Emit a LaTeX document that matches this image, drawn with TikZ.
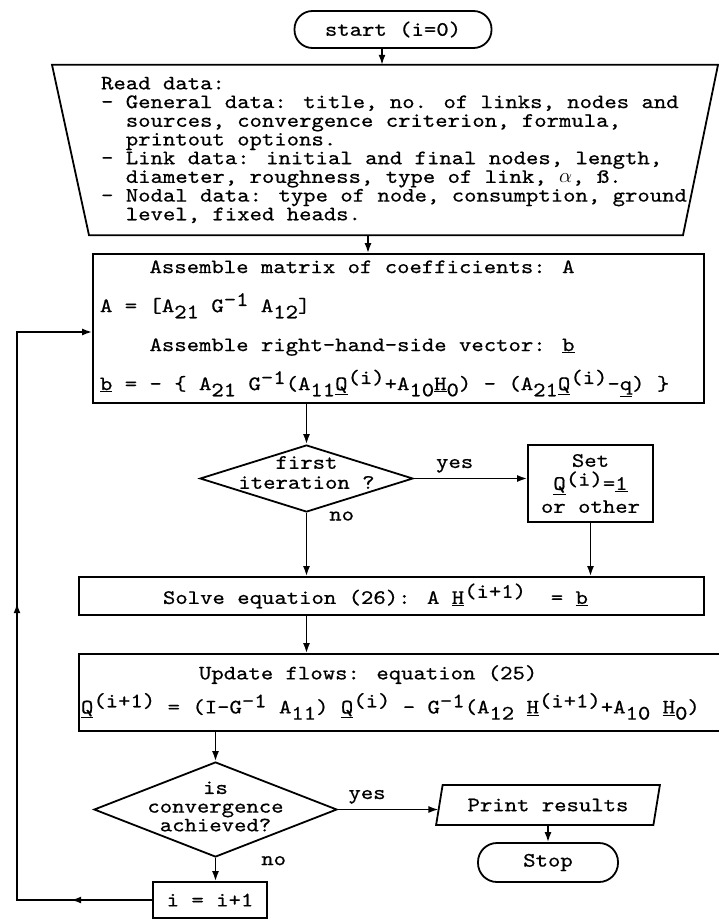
\documentclass[tikz,border=0pt]{standalone}
\usepackage{fontspec}
\newfontfamily\typew[FakeStretch=1.15, FakeBold=0.6]{lmmono10-regular.otf}
\usetikzlibrary{positioning, calc, arrows.meta, shapes.geometric, decorations.markings}

% raised / lowered indices and underlined vectors, typewriter style
\newcommand{\lo}[1]{\raisebox{-0.3em}{#1}}
\newcommand{\hi}[1]{\raisebox{0.3em}{#1}}
\newcommand{\vc}[1]{\underline{#1}}
\newcommand{\flowfont}[1]{\typew\fontsize{20.5}{#1}\selectfont\lineskiplimit=-100pt\relax}

\tikzset{
    flowtext/.style={font=\flowfont{18.7}, text=black},
    termnode/.style={rectangle, draw, line width=1.8pt, flowtext},
    procnode/.style={rectangle, draw, line width=1.8pt, flowtext},
    decnode/.style={diamond, draw, line width=1.8pt, inner sep=0pt},
    ionode/.style={trapezium, trapezium left angle=75, trapezium right angle=105, trapezium stretches=true, draw, line width=1.8pt, flowtext},
    arrow/.style={-{Latex[length=10pt,width=7pt]}, line width=1.6pt},
    lbl/.style={flowtext, inner sep=0pt},
}

\begin{document}
\begin{tikzpicture}[x=1pt, y=-1pt]
    \useasboundingbox (0,0) rectangle (719,920);

    % Inizio
    \node[termnode, rounded corners=18pt, minimum width=197pt, minimum height=37pt] (start) at (393,29.5) {start (i=0)};

    % Lettura dati (trapezio)
    \node[flowtext, align=left, inner sep=0pt, minimum height=170pt] (read) at (394,150) {Read data:\\
- General data: title, no. of links, nodes and\\
\phantom{xx}sources, convergence criterion, formula,\\
\phantom{xx}printout options.\\
- Link data: initial and final nodes, length,\\
\phantom{xx}diameter, roughness, type of link, $\alpha$, ß.\\
- Nodal data: type of node, consumption, ground\\
\phantom{xx}level, fixed heads.};
    \draw[line width=1.8pt] ([xshift=-342pt]read.north) -- ([xshift=324pt]read.north) -- ([xshift=289pt]read.south) -- ([xshift=-305pt]read.south) -- cycle;

    % Assemblaggio matrice e vettore
    \node[procnode, align=flush left, text width=597pt, inner xsep=7pt, minimum width=611pt, minimum height=149pt, font=\flowfont{39}] (assemble) at (398.5,328.5) {\hspace*{49.6pt}Assemble matrix of coefficients: A\\
A = [A\lo{21} G\hi{-1} A\lo{12}]\\
\hspace*{49.6pt}Assemble right-hand-side vector: \vc{b}\\
\vc{b} = - \{ A\lo{21} G\hi{-1}(A\lo{11}\vc{Q}\hi{(i)}+A\lo{10}\vc{H}\lo{0}) - (A\lo{21}\vc{Q}\hi{(i)}-\vc{q}) \}};

    % Prima iterazione?
    \node[decnode, minimum width=213pt, minimum height=67pt, label={[flowtext, align=center, font=\flowfont{20}, yshift=6pt]center:first\\iteration ?}] (first) at (306.5,478.5) {};
    \node[procnode, align=center, minimum width=125pt, minimum height=77pt, font=\flowfont{23}] (set) at (590.5,483.5) {Set\\\vc{Q}\raisebox{0.2em}{(i)}=\vc{1}\\or other};

    % Soluzione e aggiornamento
    \node[procnode, align=flush left, text width=611pt, inner xsep=7pt, minimum width=625pt, minimum height=38pt] (solve) at (391.5,596) {\hspace*{77pt}Solve equation (26): A \vc{H}\hi{(i+1)}\ \ = \vc{b}};
    \node[procnode, align=flush left, text width=642pt, inner xsep=2pt, minimum width=646pt, minimum height=77pt, font=\flowfont{34}] (update) at (402,692.5) {\hspace*{118pt}Update flows: equation (25)\\
\vc{Q}\hi{(i+1)} = (I-G\hi{-1} A\lo{11}) \vc{Q}\hi{(i)} - G\hi{-1}(A\lo{12} \vc{H}\hi{(i+1)}+A\lo{10} \vc{H}\lo{0})};

    % Convergenza
    \node[decnode, minimum width=243pt, minimum height=95pt, label={[flowtext, align=center, yshift=3pt]center:is\\convergence\\achieved?}] (cond) at (215.5,809.5) {};
    \node[ionode, minimum width=224pt, minimum height=40pt] (print) at (548,805) {Print results};
    \node[termnode, rounded corners=19pt, minimum width=140pt, minimum height=39pt] (stop) at (548,862.5) {Stop};
    \node[procnode, minimum width=114pt, minimum height=36pt] (ii) at (210,900) {i = i+1};

    % Frecce
    \draw[arrow] ([xshift=-11pt]start.south) -- ([xshift=-11pt]start.south |- read.north);
    \draw[arrow] ([xshift=-26pt]read.south) -- ([xshift=-26pt]read.south |- assemble.north);
    \draw[arrow] (assemble.south -| first.north) -- (first.north);
    \draw[arrow] (first.east) -- node[lbl, pos=0.36, above=5pt] {yes} (first.east -| set.west);
    \draw[arrow] (first.south) -- node[lbl, pos=0.05, anchor=west, xshift=22pt] {no} (first.south |- solve.north);
    \draw[arrow] (set.south) -- (set.south |- solve.north);
    \draw[arrow] (first.south |- solve.south) -- (first.south |- update.north);
    \draw[arrow] (update.south -| cond.north) -- (cond.north);
    \draw[arrow] (cond.east) -- node[lbl, pos=0.29, above=5pt] {yes} (cond.east -| print.west);
    \draw[arrow] (print.south) -- (stop.north);
    \draw[arrow] (cond.south) -- node[lbl, pos=0.12, anchor=west, xshift=45pt] {no} (cond.south |- ii.north);

    % Ritorno (ciclo)
    \coordinate (backbot) at (17,900);
    \coordinate (backtop) at (17,332);
    \draw[arrow, postaction={decorate}, decoration={markings,
        mark=at position 0.104 with {\arrow{Latex[length=10pt,width=7pt]}},
        mark=at position 0.555 with {\arrow{Latex[length=10pt,width=7pt]}}}]
        (ii.west) -- (backbot) -- (backtop) -- (backtop -| assemble.west);
\end{tikzpicture}
\end{document}
